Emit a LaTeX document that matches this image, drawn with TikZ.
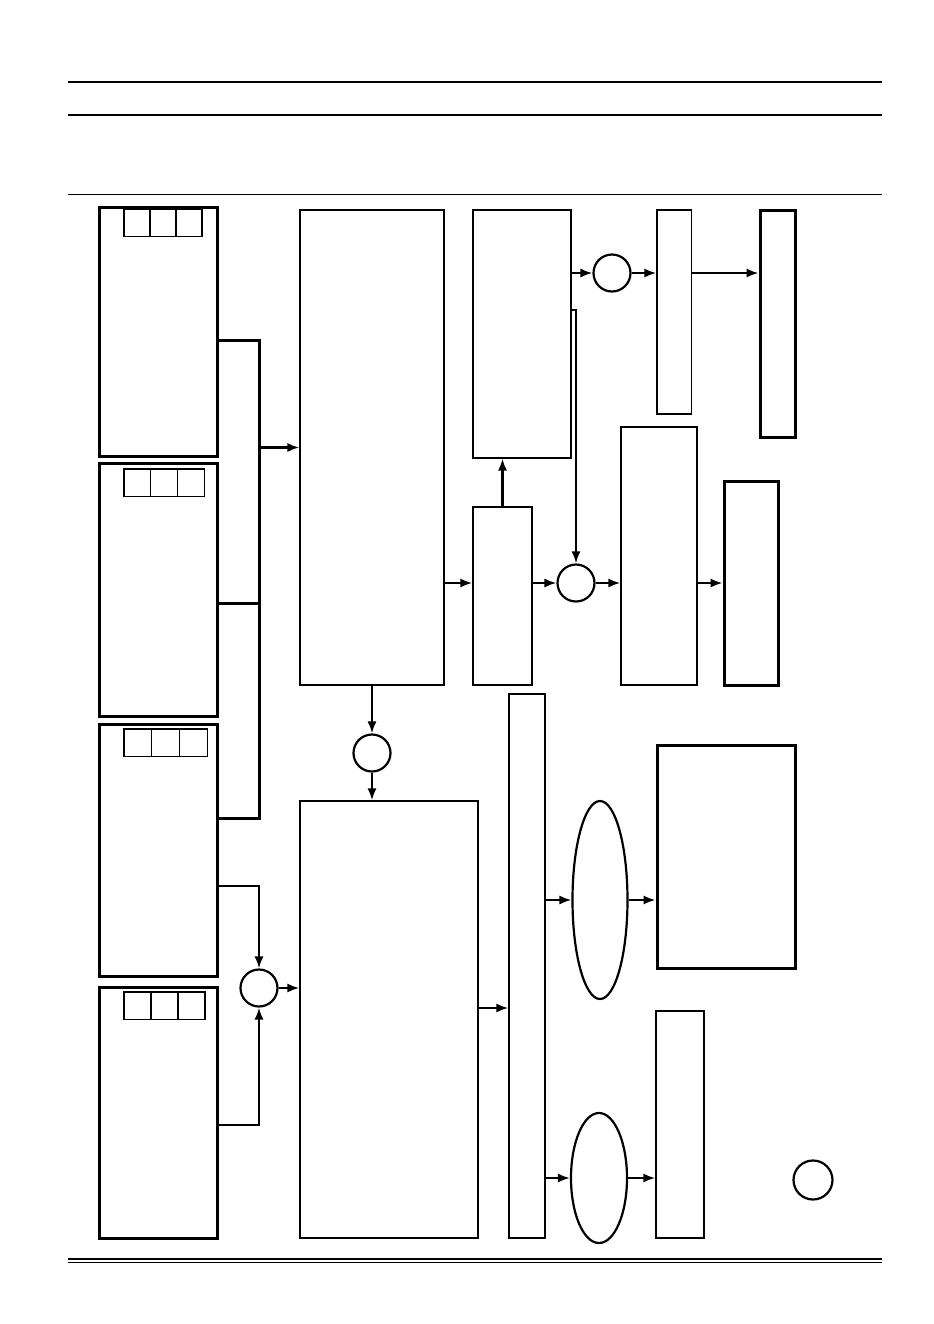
\documentclass[tikz,border=0pt]{standalone}
\usetikzlibrary{fit,shapes.geometric,arrows.meta}
\begin{document}
\begin{tikzpicture}[x=0.5pt,y=-0.5pt,>={Latex[length=6pt,width=4.6pt]},
  thickbox/.style={draw,line width=1.5pt,inner sep=0pt},
  thinbox/.style={draw,line width=0.7pt,inner sep=0pt},
  cell/.style={line width=0.6pt},
  junct/.style={draw,circle,line width=1.1pt,minimum size=18.5pt,inner sep=0pt},
  oval/.style={draw,ellipse,line width=1.1pt,inner sep=0pt},
  arr/.style={->,line width=1.1pt},
  bus/.style={line width=1.5pt}]
  \useasboundingbox (0,0) rectangle (933,1324);
  % Filets
  \draw[line width=1.3pt] (68,82) -- (882,82);
  \draw[line width=1.3pt] (68,115) -- (882,115);
  \draw[line width=0.5pt] (68,194) -- (882,194);
  \draw[line width=1.1pt] (68,1259) -- (882,1259);
  \draw[line width=0.5pt] (68,1262.5) -- (882,1262.5);

  % Colonne gauche
  \node[thickbox,fit={(99,207) (217,456)}] (in1) {};
  \node[thickbox,fit={(99,463) (217,716)}] (in2) {};
  \node[thickbox,fit={(99,724) (217,976)}] (in3) {};
  \node[thickbox,fit={(99,987) (217,1238)}] (in4) {};
  \foreach \cx/\cw/\cy in {124/26/209,124/26.7/469,124/27.7/729,124/27/992}
    \foreach \k in {0,1,2}
      \draw[cell] ({\cx+\k*\cw},\cy) rectangle ++(\cw,27.5);

  % Blocs
  \node[thinbox,fit={(300,210) (444,685)}] (main) {};
  \node[thinbox,fit={(473,210) (571,458)}] (upper) {};
  \node[thinbox,fit={(473,507) (532,685)}] (mid) {};
  \node[thinbox,fit={(657,210) (691.5,414)}] (outA) {};
  \node[thickbox,fit={(760,210) (795,437)}] (dispA) {};
  \node[thinbox,fit={(621,427) (697,685)}] (outB) {};
  \node[thickbox,fit={(724,481) (778,685)}] (dispB) {};
  \node[thinbox,fit={(300,801) (478,1238)}] (lower) {};
  \node[thinbox,fit={(509,694) (545,1238)}] (tall) {};
  \node[thickbox,fit={(657,745) (795,968)}] (dispC) {};
  \node[thinbox,fit={(656,1011) (704,1238)}] (dispD) {};

  % Jonctions
  \node[junct] (j1) at (612,273) {};
  \node[junct] (j2) at (576,583) {};
  \node[junct] (j3) at (372,753) {};
  \node[junct] (j4) at (259,988) {};
  \node[junct,minimum size=19.5pt] (j5) at (813,1180) {};
  \node[oval,minimum width=27.5pt,minimum height=99pt] (ov1) at (600,900) {};
  \node[oval,minimum width=28pt,minimum height=65pt] (ov2) at (599,1178) {};

  % Bus
  \coordinate (bt) at (259,340);
  \coordinate (bb) at (259,818);
  \draw[bus] (in1.east |- bt) -- (bt) -- (bb) -- (in3.east |- bb);
  \draw[bus] (in2.east |- 0,603) -- (bt |- 0,603);
  \draw[arr] (bt |- main.west) -- (main.west);

  % Vers j4
  \draw[arr] (in3.east |- 0,886) -| (j4.north);
  \draw[arr] (in4.east |- 0,1125) -| (j4.south);
  \draw[arr] (j4) -- (lower.west |- j4);

  % Partie haute
  \draw[arr] (main.east |- j2) -- (mid.west |- j2);
  \draw[arr] (mid.north) -- (upper.south -| mid.north);
  \draw[arr] (mid.east |- j2) -- (j2);
  \draw[arr] (j2) -- (outB.west |- j2);
  \draw[arr] (outB.east |- j2) -- (dispB.west |- j2);
  \draw[arr] (upper.east |- j1) -- (j1);
  \draw[arr] (j1) -- (outA.west |- j1);
  \draw[arr] (outA.east |- j1) -- (dispA.west |- j1);
  \coordinate (tap) at (576,310);
  \draw[arr] (upper.east |- tap) -- (tap) -- (j2.north);

  % Partie basse
  \draw[arr] (main.south) -- (j3);
  \draw[arr] (j3) -- (lower.north -| j3);
  \draw[arr] (lower.east |- 0,1008) -- (tall.west |- 0,1008);
  \draw[arr] (tall.east |- ov1) -- (ov1);
  \draw[arr] (ov1) -- (dispC.west |- ov1);
  \draw[arr] (tall.east |- ov2) -- (ov2);
  \draw[arr] (ov2) -- (dispD.west |- ov2);
\end{tikzpicture}
\end{document}
